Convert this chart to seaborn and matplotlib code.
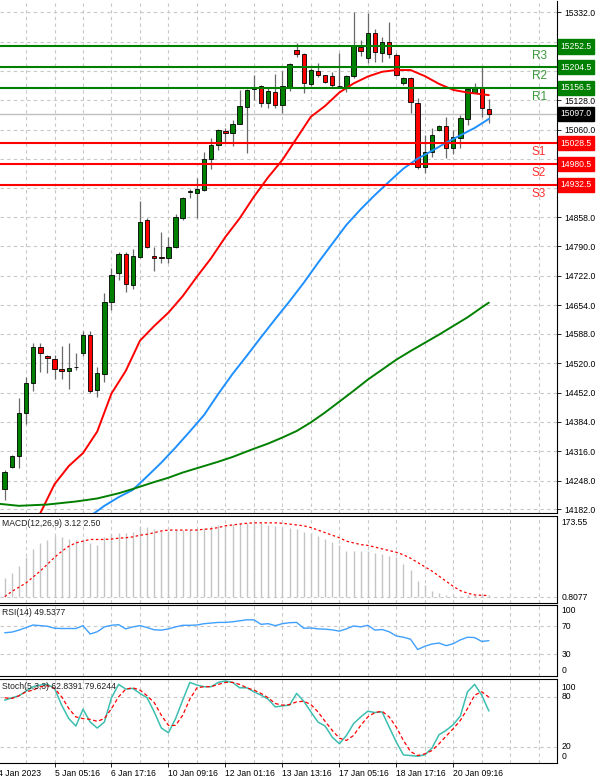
import numpy as np
import pandas as pd
import matplotlib
matplotlib.use("Agg")
import matplotlib.pyplot as plt
import seaborn as sns

# ---------------- data ----------------
opens = [14230, 14280, 14305, 14404, 14475, 14557, 14537, 14530, 14506, 14501,
         14512, 14544, 14584, 14458, 14494, 14662, 14728, 14772, 14701, 14766,
         14850, 14767, 14766, 14763, 14788, 14856, 14916, 14914, 14921, 14992,
         15025, 15058, 15053, 15073, 15113, 15153, 15161, 15121, 15148, 15117,
         15158, 15244, 15234, 15166, 15196, 15187, 15184, 15162, 15159, 15184,
         15252, 15227, 15284, 15238, 15264, 15233, 15167, 15180, 15122, 14974,
         15009, 15059, 15069, 15017, 15040, 15084, 15146, 15156, 15108]
highs = [14272, 14308, 14440, 14489, 14566, 14567, 14539, 14539, 14560, 14566,
         14543, 14595, 14594, 14510, 14682, 14739, 14776, 14776, 14783, 14894,
         14855, 14789, 14824, 14811, 14865, 14904, 14922, 14948, 15009, 15040,
         15061, 15063, 15082, 15152, 15153, 15187, 15163, 15159, 15189, 15196,
         15214, 15260, 15237, 15202, 15215, 15187, 15194, 15237, 15187, 15333,
         15267, 15329, 15292, 15275, 15310, 15238, 15183, 15183, 15133, 15048,
         15063, 15071, 15089, 15059, 15094, 15156, 15169, 15204, 15130]
lows = [14203, 14277, 14277, 14379, 14456, 14500, 14497, 14483, 14483, 14460,
        14504, 14537, 14451, 14442, 14477, 14643, 14712, 14685, 14692, 14763,
        14786, 14734, 14752, 14752, 14786, 14851, 14901, 14855, 14919, 14968,
        15013, 15032, 15022, 15073, 15005, 15129, 15112, 15110, 15110, 15099,
        15150, 15229, 15144, 15161, 15183, 15169, 15158, 15156, 15148, 15179,
        15230, 15214, 15217, 15217, 15225, 15184, 15163, 15099, 14968, 14959,
        14998, 15058, 14994, 15004, 15017, 15071, 15144, 15090, 15075]
closes = [14268, 14306, 14405, 14475, 14557, 14544, 14532, 14506, 14501, 14508,
          14512, 14585, 14456, 14497, 14662, 14724, 14772, 14702, 14768, 14847,
          14789, 14764, 14763, 14789, 14857, 14901, 14918, 14922, 14992, 15025,
          15059, 15053, 15073, 15115, 15152, 15157, 15121, 15150, 15117, 15161,
          15212, 15234, 15167, 15198, 15187, 15171, 15163, 15160, 15184, 15254,
          15243, 15284, 15240, 15264, 15235, 15187, 15180, 15125, 14974, 15009,
          15048, 15069, 15017, 15044, 15086, 15153, 15156, 15110, 15097]

# moving averages (candle index -> value)
ma_red_idx = [4, 5, 7, 9, 11, 13, 15, 17, 19, 21, 23, 25, 27, 29, 31, 33, 35, 37, 39,
              41, 43, 45, 47, 49, 51, 53, 55, 57, 59, 61, 63, 65, 67, 68]
ma_red = [14140, 14173, 14240, 14282, 14312, 14362, 14450, 14502, 14572, 14606, 14637,
          14675, 14720, 14763, 14812, 14855, 14905, 14950, 14990, 15040, 15090, 15115,
          15146, 15167, 15183, 15194, 15198, 15198, 15184, 15166, 15152, 15146, 15142, 15140]
ma_blue_idx = [12, 14, 16, 18, 20, 22, 24, 26, 28, 30, 32, 34, 36, 38, 40, 42, 44, 46,
               48, 50, 52, 54, 56, 58, 60, 62, 64, 66, 68]
ma_blue = [14166, 14190, 14210, 14227, 14258, 14290, 14325, 14362, 14400, 14449, 14495,
           14537, 14580, 14622, 14663, 14706, 14752, 14796, 14840, 14876, 14909, 14940,
           14970, 14993, 15011, 15030, 15047, 15064, 15085]
ma_green_idx = [-1, 2, 6, 10, 13, 16, 18, 21, 23, 25, 27, 30, 32, 35, 37, 39, 41, 43, 45,
                47, 49, 51, 53, 55, 57, 59, 61, 63, 65, 67, 68]
ma_green = [14195, 14190, 14193, 14200, 14207, 14219, 14229, 14245, 14255, 14267, 14277,
            14292, 14303, 14322, 14334, 14348, 14363, 14383, 14406, 14431, 14456, 14482,
            14505, 14528, 14548, 14567, 14586, 14606, 14626, 14649, 14660]

levels_res = [15252.5, 15204.5, 15156.5]
levels_res_names = ["R3", "R2", "R1"]
levels_sup = [15028.5, 14980.5, 14932.5]
levels_sup_names = ["S1", "S2", "S3"]
last_price = 15097.0

price_ticks = [15332.0, 15264.0, 15196.0, 15128.0, 15060.0, 14992.0, 14926.0, 14858.0,
               14790.0, 14722.0, 14654.0, 14588.0, 14520.0, 14452.0, 14384.0, 14316.0,
               14248.0, 14182.0]

macd_hist = [44, 56, 72, 92, 112, 126, 132, 142, 140, 134,
             132, 134, 126, 120, 140, 146, 150, 148, 152, 166,
             164, 158, 154, 154, 156, 156, 156, 158, 160, 166,
             168, 166, 170, 172, 173.55, 172, 173, 168, 166, 160,
             160, 158, 152, 148, 142, 134, 128, 122, 108, 106,
             106, 106, 102, 100, 96, 94, 76, 62, 36, 28,
             12, 8, 4, 3, 2, 3, 3, 3, 3.12]
macd_signal = [0, 12, 22, 32, 46, 60, 76, 92, 106, 118,
               126, 130, 134, 134, 134, 135, 137, 138, 140, 144,
               146, 150, 154, 156, 156, 156, 156, 156, 158, 159,
               162, 166, 168, 170, 172, 173, 173, 173, 173, 172,
               170, 168, 166, 162, 156, 150, 144, 138, 130, 126,
               122, 120, 116, 112, 108, 104, 98, 90, 80, 70,
               60, 48, 36, 24, 14, 8, 4, 3, 2.5]
rsi = [60.8, 61.7, 64.5, 68.2, 71.8, 70.9, 70.0, 67.2, 66.8, 66.8,
       66.8, 70.9, 59.0, 62.2, 69.1, 71.4, 72.3, 66.3, 69.1, 70.9,
       68.2, 65.0, 64.5, 66.3, 69.1, 71.4, 71.4, 71.8, 73.7, 74.6,
       75.5, 75.5, 76.4, 77.8, 79.2, 79.2, 72.8, 73.7, 70.9, 73.7,
       75.1, 75.5, 67.2, 67.6, 66.3, 65.9, 64.9, 63.1, 66.3, 70.5,
       69.1, 71.4, 64.5, 65.4, 62.2, 56.2, 54.4, 51.6, 36.9, 41.5,
       44.7, 46.1, 42.4, 45.2, 50.7, 54.4, 53.9, 48.4, 49.54]
stoch_main = [75.9, 78.8, 81.2, 86.9, 92.2, 94.2, 95.0, 90.1, 69.9, 53.7,
              44.7, 65.0, 49.6, 42.3, 49.6, 78.8, 95.0, 89.3, 90.1, 84.1,
              78.8, 61.8, 42.3, 36.6, 53.7, 75.9, 97.4, 94.2, 92.2, 92.2,
              97.4, 99.1, 97.4, 90.9, 90.9, 86.1, 82.0, 77.2, 67.8, 69.1,
              69.9, 84.1, 74.7, 61.8, 49.6, 44.7, 31.4, 23.3, 33.4, 47.6,
              55.7, 62.6, 61.0, 61.8, 43.5, 25.3, 9.9, 9.1, 8.3, 9.9,
              18.0, 34.2, 39.5, 46.4, 56.9, 86.1, 95.0, 82.0, 62.84]
stoch_signal = [78.8, 78.0, 81.2, 86.1, 88.1, 92.2, 93.4, 90.1, 80.0, 65.8,
                55.7, 53.7, 52.8, 50.4, 53.7, 65.8, 80.0, 89.3, 90.9, 88.1,
                81.2, 73.1, 57.7, 45.5, 45.5, 57.7, 77.2, 90.9, 92.2, 92.2,
                95.0, 97.4, 97.4, 95.0, 90.9, 88.1, 84.1, 78.8, 71.9, 69.9,
                70.7, 73.9, 74.7, 70.7, 61.8, 50.4, 39.5, 30.1, 27.3, 33.4,
                45.5, 55.7, 61.0, 62.6, 55.7, 43.5, 27.3, 13.9, 9.1, 11.1,
                15.1, 23.3, 32.6, 41.5, 51.6, 65.8, 82.0, 86.1, 79.62]

date_ticks = [7, 15, 23, 31, 39, 47, 55, 63]
date_labels = ["5 Jan 05:16", "6 Jan 17:16", "10 Jan 09:16", "12 Jan 01:16",
               "13 Jan 13:16", "17 Jan 05:16", "18 Jan 17:16", "20 Jan 09:16"]
first_date_label = "4 Jan 2023"

# ---------------- style ----------------
sns.set_style("white")
plt.rcParams["font.family"] = ["Liberation Sans", "DejaVu Sans"]
plt.rcParams["axes.linewidth"] = 0.8

W, H = 600, 782
fig = plt.figure(figsize=(W / 100, H / 100), dpi=100)
fig.patch.set_facecolor("white")
AX_RIGHT = 557


def panel(top, bottom):
    return fig.add_axes([0, 1 - bottom / H, AX_RIGHT / W, (bottom - top) / H])


ax = panel(1, 513)
axm = panel(516, 603)
axr = panel(605, 676)
axs = panel(679, 763)

XLIM = (-0.66, 77.57)
grid_x = np.arange(3, 78, 4)
GRID = dict(color="#c8c8c8", linewidth=0.8, linestyle=(0, (3, 3)), zorder=0)
FS = 6.2

for a in (ax, axm, axr, axs):
    a.set_xlim(*XLIM)
    a.set_facecolor("white")
    for gx in grid_x:
        a.axvline(gx, **GRID)
    a.spines["left"].set_visible(False)
    for s in ("right", "top", "bottom"):
        a.spines[s].set_color("black")
    a.yaxis.tick_right()
    a.tick_params(axis="y", right=True, length=3, width=0.6, labelsize=FS, pad=2,
                  colors="black")
    a.tick_params(axis="x", bottom=False, labelbottom=False)
ax.spines["top"].set_visible(False)

# ---------------- main price panel ----------------
ax.set_ylim(14173.4, 15357.7)
ax.set_yticks(price_ticks)
ax.set_yticklabels([f"{v:.1f}" for v in price_ticks])
for v in price_ticks:
    ax.axhline(v, **GRID)
ax.axhline(last_price, color="#c0c0c0", linewidth=1.0, zorder=1)

idx = np.arange(len(opens))
o = np.array(opens, float)
c = np.array(closes, float)
ax.vlines(idx, lows, highs, color="#6a6a6a", linewidth=0.9, zorder=3)
body_colors = ["#008000" if cc >= oo else "#ff0000" for oo, cc in zip(o, c)]
ax.bar(idx, np.abs(c - o), bottom=np.minimum(o, c), width=0.62, color=body_colors,
       edgecolor="black", linewidth=0.6, zorder=4)

sns.lineplot(x=ma_red_idx, y=ma_red, ax=ax, color="#ff0000", linewidth=1.4, zorder=5)
sns.lineplot(x=ma_blue_idx, y=ma_blue, ax=ax, color="#1e90ff", linewidth=1.4, zorder=5)
sns.lineplot(x=ma_green_idx, y=ma_green, ax=ax, color="#008000", linewidth=1.4, zorder=5)

for lv, nm in zip(levels_res, levels_res_names):
    ax.axhline(lv, color="#008000", linewidth=1.5, zorder=6)
    ax.annotate(nm, xy=(74.0, lv), xytext=(0, -6.5), textcoords="offset points",
                ha="left", va="center", fontsize=8.5, color="#3a9a3a", zorder=7)
    ax.annotate(f"{lv:.1f}", xy=(1, lv), xycoords=("axes fraction", "data"),
                xytext=(2.5, 0), textcoords="offset points", ha="left", va="center",
                fontsize=FS, color="white", annotation_clip=False, zorder=10,
                bbox=dict(boxstyle="square,pad=0.3", fc="#008000", ec="#008000"))
for lv, nm in zip(levels_sup, levels_sup_names):
    ax.axhline(lv, color="#ff0000", linewidth=1.5, zorder=6)
    ax.annotate(nm, xy=(74.0, lv), xytext=(0, -6.5), textcoords="offset points",
                ha="left", va="center", fontsize=8.5, color="#ff3030", zorder=7)
    ax.annotate(f"{lv:.1f}", xy=(1, lv), xycoords=("axes fraction", "data"),
                xytext=(2.5, 0), textcoords="offset points", ha="left", va="center",
                fontsize=FS, color="white", annotation_clip=False, zorder=10,
                bbox=dict(boxstyle="square,pad=0.3", fc="#ff0000", ec="#ff0000"))
ax.annotate(f"{last_price:.1f}", xy=(1, last_price), xycoords=("axes fraction", "data"),
            xytext=(2.5, 0), textcoords="offset points", ha="left", va="center",
            fontsize=FS, color="white", annotation_clip=False, zorder=10,
            bbox=dict(boxstyle="square,pad=0.3", fc="black", ec="black"))
ax.set_xlabel("")
ax.set_ylabel("")


def title(a, txt):
    a.annotate(txt, xy=(0, 1), xycoords="axes fraction", xytext=(1.5, -2),
               textcoords="offset points", ha="left", va="top", fontsize=FS,
               color="#202020", zorder=10)


def right_labels(a, vals, labels, offsets):
    a.set_yticks([])
    for v, lb, off in zip(vals, labels, offsets):
        a.annotate(lb, xy=(1, v), xycoords=("axes fraction", "data"),
                   xytext=(3, off), textcoords="offset points", ha="left",
                   va="center", fontsize=FS, color="black", annotation_clip=False)


# ---------------- MACD ----------------
axm.set_ylim(-15, 189)
axm.axhline(0, **GRID)
axm.vlines(idx, 0, macd_hist, color="#c4c4c4", linewidth=1.0, zorder=2)
sns.lineplot(x=idx, y=macd_signal, ax=axm, color="#ff0000", linewidth=0.9,
             linestyle=(0, (2, 2)), zorder=3)
title(axm, "MACD(12,26,9) 3.12 2.50")
right_labels(axm, [173.55, 0], ["173.55", "0.8077"], [0, -1])
axm.set_xlabel(""); axm.set_ylabel("")

# ---------------- RSI ----------------
axr.set_ylim(-0.8, 100.3)
for lv in (70, 30):
    axr.axhline(lv, **GRID)
sns.lineplot(x=idx, y=rsi, ax=axr, color="#3fa0ff", linewidth=1.0, zorder=3)
title(axr, "RSI(14) 49.5377")
right_labels(axr, [100, 70, 30, 0], ["100", "70", "30", "0"], [-3.5, 0, 0, 3.5])
axr.set_xlabel(""); axr.set_ylabel("")

# ---------------- Stochastic ----------------
axs.set_ylim(0.1, 101.5)
for lv in (80, 20):
    axs.axhline(lv, **GRID)
sns.lineplot(x=idx, y=stoch_main, ax=axs, color="#3cbfb0", linewidth=1.1, zorder=3)
sns.lineplot(x=idx, y=stoch_signal, ax=axs, color="#ff0000", linewidth=0.9,
             linestyle=(0, (3, 2)), zorder=3)
title(axs, "Stoch(5,3,3) 62.8391 79.6244")
right_labels(axs, [100, 80, 20, 0], ["100", "80", "20", "0"], [-5, 0, 0, 4.5])
axs.set_xlabel(""); axs.set_ylabel("")

axs.set_xticks(date_ticks)
axs.set_xticklabels(date_labels, ha="left")
axs.tick_params(axis="x", bottom=True, labelbottom=True, length=3, width=0.6,
                labelsize=FS, pad=1.5, colors="black")
axs.annotate(first_date_label, xy=(-1, 0), xycoords=("data", "axes fraction"),
             xytext=(0, -4.4), textcoords="offset points", ha="left", va="top",
             fontsize=FS, color="black", annotation_clip=False)

fig.savefig("out.png", dpi=100, facecolor="white")
